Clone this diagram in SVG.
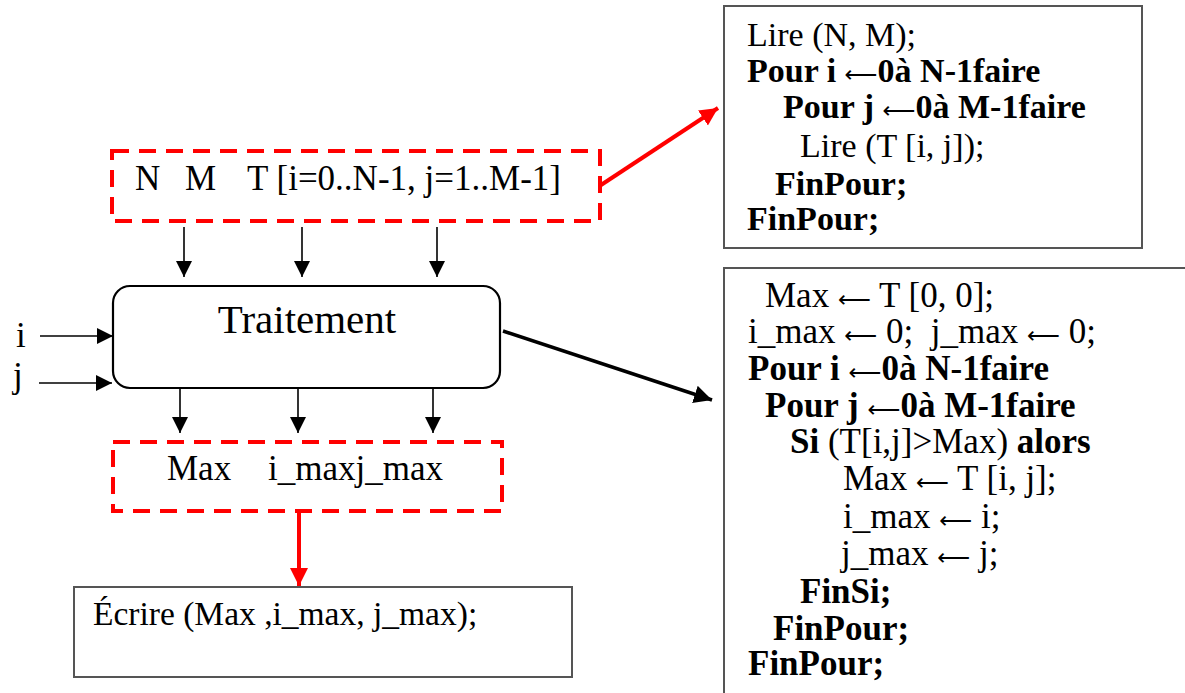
<svg xmlns="http://www.w3.org/2000/svg" width="1185" height="693" viewBox="0 0 1185 693">
<style>
text{font-family:"Liberation Serif","Times New Roman",serif;fill:#000;}
.t{font-size:35px;}
.s{font-size:34px;}
.b{font-weight:bold;}
.ar{font-family:"DejaVu Sans",sans-serif;font-weight:normal;font-size:23px;}
.dash{fill:none;stroke:#ff0000;stroke-width:4;stroke-dasharray:17 10;}
.box{fill:#fff;stroke:#555;stroke-width:2;}
.thin{stroke:#000;stroke-width:1.6;fill:none;}
</style>
<defs>
<marker id="ab" markerUnits="userSpaceOnUse" markerWidth="18" markerHeight="18" refX="16" refY="8" orient="auto">
<path d="M0,0 L16,8 L0,16 z" fill="#000"/>
</marker>
<marker id="ar" markerUnits="userSpaceOnUse" markerWidth="22" markerHeight="22" refX="18" refY="9" orient="auto">
<path d="M0,0 L18,9 L0,18 z" fill="#ff0000"/>
</marker>
<marker id="ak" markerUnits="userSpaceOnUse" markerWidth="22" markerHeight="22" refX="18" refY="9" orient="auto">
<path d="M0,0 L18,9 L0,18 z" fill="#000"/>
</marker>
</defs>

<g id="connectors">
<line class="thin" x1="184" y1="227" x2="184" y2="277" marker-end="url(#ab)"/>
<line class="thin" x1="302" y1="227" x2="302" y2="277" marker-end="url(#ab)"/>
<line class="thin" x1="437" y1="227" x2="437" y2="277" marker-end="url(#ab)"/>
<line class="thin" x1="40" y1="336" x2="113" y2="336" marker-end="url(#ab)"/>
<line class="thin" x1="39" y1="383" x2="112" y2="383" marker-end="url(#ab)"/>
<line class="thin" x1="180" y1="384" x2="180" y2="433" marker-end="url(#ab)"/>
<line class="thin" x1="298" y1="384" x2="298" y2="433" marker-end="url(#ab)"/>
<line class="thin" x1="433" y1="384" x2="433" y2="433" marker-end="url(#ab)"/>
<line x1="299" y1="512" x2="299" y2="586" stroke="#ff0000" stroke-width="4" marker-end="url(#ar)"/>
<line x1="601" y1="185" x2="718" y2="108" stroke="#ff0000" stroke-width="4" marker-end="url(#ar)"/>
<line x1="503" y1="331" x2="712" y2="400" stroke="#000" stroke-width="3.5" marker-end="url(#ak)"/>
</g>

<g id="inputs">
<rect class="dash" x="112" y="151" width="488" height="70"/>
<text class="t" x="135" y="190">N</text>
<text class="t" x="185" y="190">M</text>
<text class="t" x="247" y="190">T [i=0..N-1, j=1..M-1]</text>
</g>

<g id="label-i"><text class="t" x="16" y="347">i</text></g>
<g id="label-j"><text class="t" x="13" y="387">j</text></g>

<g id="traitement">
<rect x="113" y="286" width="387" height="102" rx="17" fill="#fff" stroke="#000" stroke-width="2.2"/>
<text x="307" y="333" font-size="41" text-anchor="middle">Traitement</text>
</g>

<g id="outputs">
<rect class="dash" x="113" y="442" width="389" height="69"/>
<text class="t" x="167" y="480">Max</text>
<text class="t" x="268" y="480">i_maxj_max</text>
</g>

<g id="ecrire">
<rect class="box" x="74" y="587" width="498" height="90"/>
<text x="93" y="625" font-size="33.5">Écrire (Max ,i_max, j_max);</text>
</g>

<g id="lecture">
<rect class="box" x="724" y="6" width="418" height="242"/>
<text class="s" x="747" y="46">Lire (N, M);</text>
<text class="s b" x="747" y="82">Pour i <tspan class="ar">⟵</tspan>0à N-1faire</text>
<text class="s b" x="783" y="118">Pour j <tspan class="ar">⟵</tspan>0à M-1faire</text>
<text class="s" x="800" y="157">Lire (T [i, j]);</text>
<text class="s b" x="775" y="195">FinPour;</text>
<text class="s b" x="747" y="230">FinPour;</text>
</g>

<g id="recherche">
<rect class="box" x="724" y="268" width="470" height="440"/>
<text class="t" x="765" y="307">Max <tspan class="ar">⟵</tspan> T [0, 0];</text>
<text class="t" x="748" y="343" xml:space="preserve">i_max <tspan class="ar">⟵</tspan> 0;  j_max <tspan class="ar">⟵</tspan> 0;</text>
<text class="t b" x="748" y="380">Pour i <tspan class="ar">⟵</tspan>0à N-1faire</text>
<text class="t b" x="765" y="417">Pour j <tspan class="ar">⟵</tspan>0à M-1faire</text>
<text class="t" x="790" y="453"><tspan class="b">Si</tspan> (T[i,j]&gt;Max) <tspan class="b">alors</tspan></text>
<text class="t" x="843" y="490">Max <tspan class="ar">⟵</tspan> T [i, j];</text>
<text class="t" x="843" y="528">i_max <tspan class="ar">⟵</tspan> i;</text>
<text class="t" x="841" y="565">j_max <tspan class="ar">⟵</tspan> j;</text>
<text class="t b" x="800" y="603">FinSi;</text>
<text class="t b" x="773" y="640">FinPour;</text>
<text class="t b" x="748" y="675">FinPour;</text>
</g>
</svg>
